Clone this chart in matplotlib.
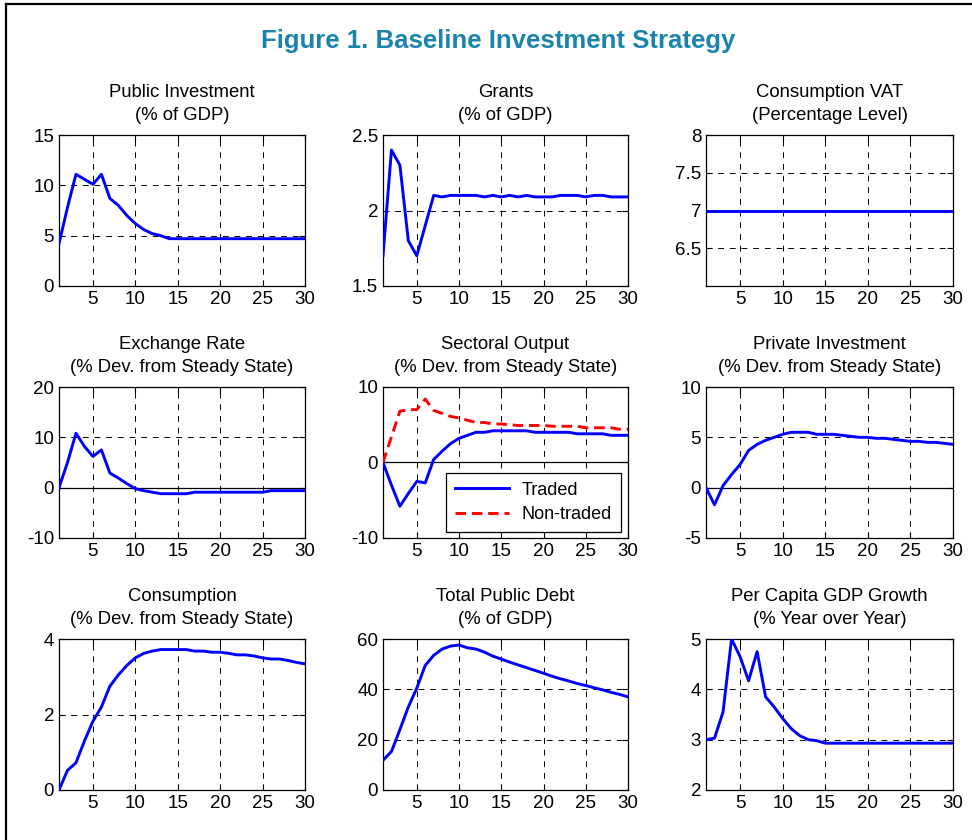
import matplotlib.pyplot as plt
from matplotlib.lines import Line2D

plt.rcParams["font.family"] = ["Liberation Sans", "DejaVu Sans"]

periods = list(range(1, 31))

public_investment = [4.2, 7.8, 11.1, 10.6, 10.1, 11.1, 8.7, 8.0, 7.0, 6.2,
                     5.6, 5.2, 5.0, 4.7, 4.7, 4.7, 4.7, 4.7, 4.7, 4.7,
                     4.7, 4.7, 4.7, 4.7, 4.7, 4.7, 4.7, 4.7, 4.7, 4.7]
grants = [1.70, 2.40, 2.30, 1.80, 1.70, 1.90, 2.10, 2.09, 2.10, 2.10,
          2.10, 2.10, 2.09, 2.10, 2.09, 2.10, 2.09, 2.10, 2.09, 2.09,
          2.09, 2.10, 2.10, 2.10, 2.09, 2.10, 2.10, 2.09, 2.09, 2.09]
consumption_vat = [7.0] * 30
exchange_rate = [0.0, 5.0, 10.8, 8.2, 6.2, 7.5, 2.9, 1.9, 0.8, -0.2,
                 -0.6, -0.9, -1.2, -1.2, -1.2, -1.2, -0.9, -0.9, -0.9, -0.9,
                 -0.9, -0.9, -0.9, -0.9, -0.9, -0.6, -0.6, -0.6, -0.6, -0.6]
traded_output = [0.0, -3.0, -5.8, -4.1, -2.5, -2.7, 0.4, 1.5, 2.5, 3.2,
                 3.6, 4.0, 4.0, 4.2, 4.2, 4.2, 4.2, 4.2, 4.0, 4.0,
                 4.0, 4.0, 4.0, 3.8, 3.8, 3.8, 3.8, 3.6, 3.6, 3.6]
nontraded_output = [0.0, 3.4, 6.8, 7.0, 7.0, 8.4, 6.9, 6.5, 6.1, 5.9,
                    5.6, 5.3, 5.3, 5.1, 5.1, 5.0, 4.9, 4.9, 4.9, 4.9,
                    4.8, 4.8, 4.8, 4.8, 4.6, 4.6, 4.6, 4.6, 4.4, 4.4]
private_investment = [0.0, -1.7, 0.2, 1.3, 2.3, 3.7, 4.3, 4.7, 5.0, 5.3,
                      5.5, 5.5, 5.5, 5.3, 5.3, 5.3, 5.2, 5.1, 5.0, 5.0,
                      4.9, 4.9, 4.8, 4.7, 4.6, 4.6, 4.5, 4.5, 4.4, 4.3]
consumption = [0.0, 0.52, 0.72, 1.3, 1.82, 2.2, 2.75, 3.05, 3.3, 3.5,
               3.62, 3.68, 3.72, 3.72, 3.72, 3.72, 3.68, 3.68, 3.65, 3.65,
               3.62, 3.58, 3.58, 3.55, 3.5, 3.47, 3.47, 3.43, 3.38, 3.34]
public_debt = [11.8, 15.3, 24.0, 33.0, 40.5, 49.5, 53.5, 56.0, 57.2, 57.6,
               56.5, 56.0, 54.8, 53.2, 52.0, 50.8, 49.7, 48.6, 47.5, 46.4,
               45.2, 44.2, 43.3, 42.3, 41.5, 40.6, 39.8, 38.8, 38.0, 37.0]
gdp_growth = [3.0, 3.03, 3.55, 5.0, 4.65, 4.17, 4.75, 3.85, 3.65, 3.42,
              3.22, 3.08, 3.0, 2.98, 2.93, 2.93, 2.93, 2.93, 2.93, 2.93,
              2.93, 2.93, 2.93, 2.93, 2.93, 2.93, 2.93, 2.93, 2.93, 2.93]

x_ticks = [5, 10, 15, 20, 25, 30]

panels = [
    ("Public Investment\n(% of GDP)", [public_investment], (0, 15), [0, 5, 10, 15], False),
    ("Grants\n(% of GDP)", [grants], (1.5, 2.5), [1.5, 2, 2.5], False),
    ("Consumption VAT\n(Percentage Level)", [consumption_vat], (6, 8), [6.5, 7, 7.5, 8], False),
    ("Exchange Rate\n(% Dev. from Steady State)", [exchange_rate], (-10, 20), [-10, 0, 10, 20], True),
    ("Sectoral Output\n(% Dev. from Steady State)", [traded_output, nontraded_output], (-10, 10), [-10, 0, 10], True),
    ("Private Investment\n(% Dev. from Steady State)", [private_investment], (-5, 10), [-5, 0, 5, 10], True),
    ("Consumption\n(% Dev. from Steady State)", [consumption], (0, 4), [0, 2, 4], False),
    ("Total Public Debt\n(% of GDP)", [public_debt], (0, 60), [0, 20, 40, 60], False),
    ("Per Capita GDP Growth\n(% Year over Year)", [gdp_growth], (2, 5), [2, 3, 4, 5], False),
]

W, H = 972, 840
lefts = [59, 383, 706]
widths = [246, 245, 247]
tops = [135, 387, 639]
height = 151

fig = plt.figure(figsize=(W / 100, H / 100), dpi=100)

# border of the figure box
fig.add_artist(Line2D([6 / W, 6 / W], [0, 1 - 4 / H], color="black", linewidth=1.6))
fig.add_artist(Line2D([6 / W, 1], [1 - 4 / H, 1 - 4 / H], color="black", linewidth=1.6))

fig.text(498 / W, 1 - 41 / H, "Figure 1. Baseline Investment Strategy", ha="center", va="center",
         fontsize=18.5, fontweight="bold", color="#1a84ad")

for i, (title, series, ylim, yticks, zero_line) in enumerate(panels):
    row, col = divmod(i, 3)
    ax = fig.add_axes([lefts[col] / W, 1 - (tops[row] + height) / H, widths[col] / W, height / H])
    if zero_line:
        ax.axhline(0, color="black", linewidth=0.9, zorder=2)
    ax.plot(periods, series[0], color="#0000ff", linewidth=2.1, zorder=3, label="Traded")
    if len(series) > 1:
        ax.plot(periods, series[1], color="#ff0000", linewidth=2.1, linestyle=(0, (3.6, 2.0)),
                zorder=3, label="Non-traded")
        leg = ax.legend(loc="lower right", bbox_to_anchor=(0.97, 0.04), fontsize=13,
                        handlelength=3.0, fancybox=False, framealpha=1, borderaxespad=0,
                        borderpad=0.5, labelspacing=0.4, handletextpad=0.7)
        leg.get_frame().set_edgecolor("black")
        leg.get_frame().set_linewidth(0.9)
    ax.set_xlim(1, 30)
    ax.set_ylim(*ylim)
    ax.set_xticks(x_ticks)
    ax.set_yticks(yticks)
    ax.set_yticklabels([f"{v:g}" for v in yticks])
    ax.grid(True, color="black", linestyle=(0, (6, 6)), linewidth=0.7)
    ax.set_axisbelow(True)
    ax.tick_params(direction="in", top=True, right=True, labelsize=13.5, length=4, width=0.8)
    for spine in ax.spines.values():
        spine.set_linewidth(0.9)
    ax.set_title(title, fontsize=13.3, pad=11, linespacing=1.45)

fig.savefig("out.png", dpi=100)
